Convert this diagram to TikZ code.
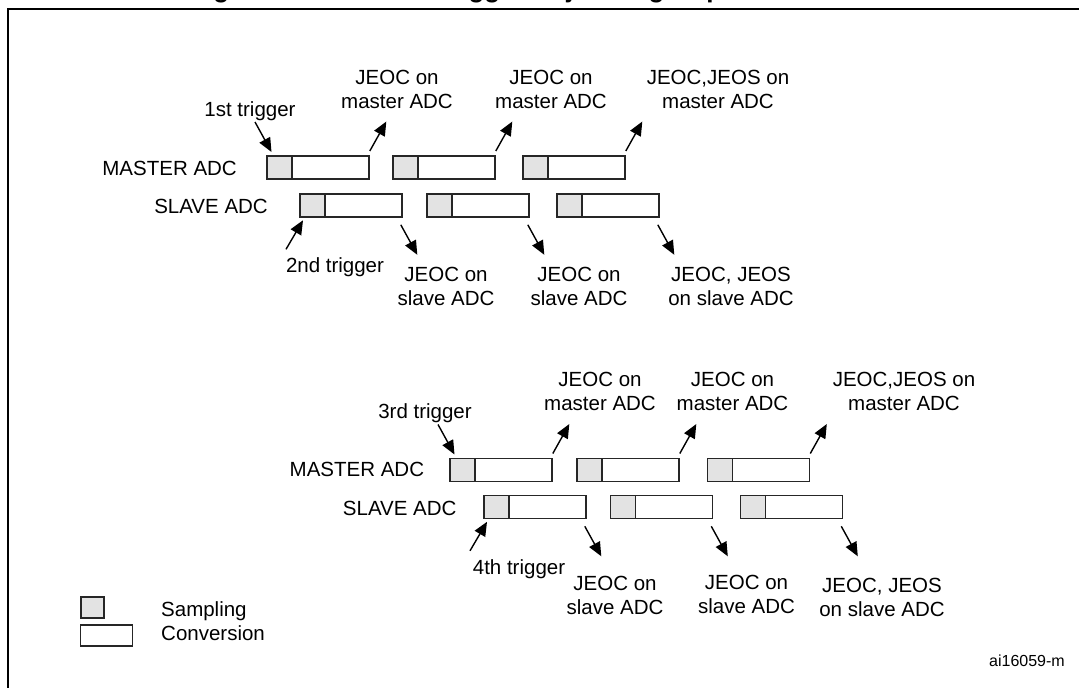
\documentclass[tikz,border=0pt]{standalone}
\usepackage{fontspec}
\setmainfont{Liberation Sans}
\usetikzlibrary{arrows.meta}
\begin{document}
\begin{tikzpicture}[x=1pt,y=-1pt,
  lbl/.style={font=\fontsize{20.5}{24}\selectfont, inner sep=0pt, align=center},
  conv/.style={draw=black!85, line width=1.8pt, minimum width=102pt, minimum height=23pt, inner sep=0pt, anchor=north west},
  samp/.style={draw=black!85, line width=1.8pt, fill=black!11, minimum width=25pt, minimum height=23pt, inner sep=0pt, anchor=north west},
  arr/.style={line width=1.4pt, -{Triangle[length=14pt,width=12pt]}},
  frame/.style={line width=2.5pt, draw=black}
]
\useasboundingbox (0,0) rectangle (1079,688);
\clip (0,0) rectangle (1079,688);
\fill[white] (0,0) rectangle (1079,688);

% frame and clipped title
\draw[frame] (8,9) rectangle (1100,720);
\node[font=\bfseries\fontsize{26}{30}\selectfont, anchor=base west, inner sep=0pt] (title) at (190,-2) {Figure 51. Alternate trigger: injected group of each ADC};

% ---------- top group ----------
\foreach \n/\x in {m1/266, m2/392, m3/522} {
  \node[conv] (\n) at (\x,155) {};
  \node[samp] (\n s) at (\x,155) {};
}
\foreach \n/\x in {s1/299, s2/426, s3/556} {
  \node[conv] (\n) at (\x,193) {};
  \node[samp] (\n s) at (\x,193) {};
}
\node[lbl, anchor=base east] (mlab) at (237,175.5) {MASTER ADC};
\node[lbl, anchor=base east] (slab) at (268,213.8) {SLAVE ADC};

\node[lbl, anchor=base] (t1) at (250,116) {1st trigger};
\node[lbl, anchor=base] (t2) at (335,272.5) {2nd trigger};

\node[lbl] (jm1) at (397,89.7) {JEOC on\\master ADC};
\node[lbl] (jm2) at (551,89.7) {JEOC on\\master ADC};
\node[lbl] (jm3) at (718,89.7) {JEOC,JEOS on\\master ADC};
\node[lbl] (js1) at (446,286.3) {JEOC on\\slave ADC};
\node[lbl] (js2) at (579,286.3) {JEOC on\\slave ADC};
\node[lbl] (js3) at (731,286.3) {JEOC, JEOS\\on slave ADC};

\draw[arr] ([shift={(-11,-33)}]m1.north west) -- ([shift={(5.5,-3)}]m1.north west);
\draw[arr] ([shift={(-13,31.5)}]s1.south west) -- ([shift={(4,2.5)}]s1.south west);
\foreach \n in {m1,m2,m3}
  \draw[arr] ([shift={(0,-4)}]\n.north east) -- ++(16.5,-29.5);
\foreach \n in {s1,s2,s3}
  \draw[arr] ([shift={(-2,7)}]\n.south east) -- ++(16.5,30);

% ---------- bottom group ----------
\foreach \n/\x in {M1/449, M2/576, M3/706.5} {
  \node[conv] (\n) at (\x,457.5) {};
  \node[samp] (\n s) at (\x,457.5) {};
}
\foreach \n/\x in {S1/483, S2/609.5, S3/739.5} {
  \node[conv] (\n) at (\x,494.5) {};
  \node[samp] (\n s) at (\x,494.5) {};
}
\node[lbl, anchor=base east] (Mlab) at (424.3,476.6) {MASTER ADC};
\node[lbl, anchor=base east] (Slab) at (456.7,515.6) {SLAVE ADC};

\node[lbl, anchor=base] (t3) at (425,418.3) {3rd trigger};
\node[lbl, anchor=base] (t4) at (519,574.3) {4th trigger};

\node[lbl] (JM1) at (600,391.3) {JEOC on\\master ADC};
\node[lbl] (JM2) at (732.5,391.3) {JEOC on\\master ADC};
\node[lbl] (JM3) at (904,391.3) {JEOC,JEOS on\\master ADC};
\node[lbl] (JS1) at (615,595.8) {JEOC on\\slave ADC};
\node[lbl] (JS2) at (746.5,594.3) {JEOC on\\slave ADC};
\node[lbl] (JS3) at (882,597) {JEOC, JEOS\\on slave ADC};

\draw[arr] ([shift={(-11,-33)}]M1.north west) -- ([shift={(5.5,-3)}]M1.north west);
\draw[arr] ([shift={(-13,31.5)}]S1.south west) -- ([shift={(4,2.5)}]S1.south west);
\foreach \n in {M1,M2,M3}
  \draw[arr] ([shift={(0,-4)}]\n.north east) -- ++(16.5,-29.5);
\foreach \n in {S1,S2,S3}
  \draw[arr] ([shift={(-2,7)}]\n.south east) -- ++(16.5,30);

% ---------- legend ----------
\node[samp, minimum width=23pt, minimum height=21pt] (legs) at (80,596) {};
\node[conv, minimum width=52pt, minimum height=21pt] (legc) at (79.5,624) {};
\node[lbl, anchor=base west] (legst) at (161,616.7) {Sampling};
\node[lbl, anchor=base west] (legct) at (161,640) {Conversion};

\node[font=\fontsize{16}{19}\selectfont, inner sep=0pt, anchor=base east] (code) at (1065,666.5) {ai16059-m};
\end{tikzpicture}
\end{document}
